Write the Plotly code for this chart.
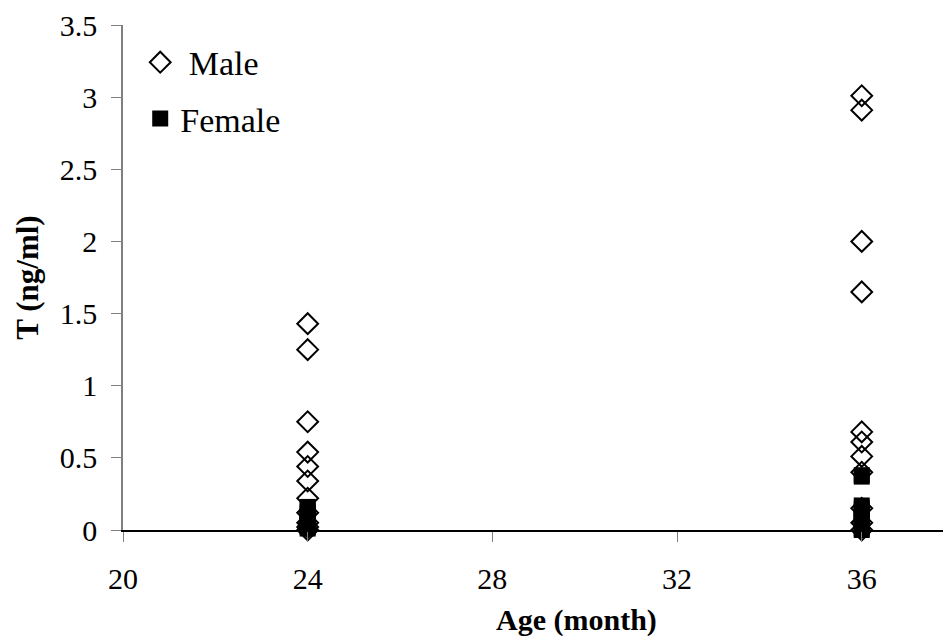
import plotly.graph_objects as go

# Data
male_age_24 = [1.43, 1.25, 0.75, 0.54, 0.44, 0.34, 0.22, 0.12, 0.05, 0.02, 0.0]
male_age_36 = [3.01, 2.91, 2.0, 1.65, 0.68, 0.61, 0.51, 0.40, 0.15, 0.05, 0.0]
female_age_24 = [0.16, 0.14, 0.12, 0.10, 0.08, 0.06, 0.05, 0.04, 0.03, 0.02, 0.01]
female_age_36 = [0.38, 0.37, 0.17, 0.15, 0.13, 0.11, 0.09, 0.07, 0.05, 0.03, 0.01, 0.0]

x_ticks = [20, 24, 28, 32, 36]
y_ticks = [0, 0.5, 1, 1.5, 2, 2.5, 3, 3.5]
y_tick_labels = ["0", "0.5", "1", "1.5", "2", "2.5", "3", "3.5"]

male_x = [24] * len(male_age_24) + [36] * len(male_age_36)
male_y = male_age_24 + male_age_36
female_x = [24] * len(female_age_24) + [36] * len(female_age_36)
female_y = female_age_24 + female_age_36

FONT = "Liberation Serif"

fig = go.Figure()
fig.add_trace(go.Scatter(
    x=male_x, y=male_y, mode="markers", name="&nbsp;Male", legendgroup="m",
    marker=dict(symbol="diamond-open", size=16, color="black", line=dict(width=2, color="black")),
    cliponaxis=False,
))
fig.add_trace(go.Scatter(
    x=female_x, y=female_y, mode="markers", name="Female", legendgroup="f",
    marker=dict(symbol="square", size=16, color="black", line=dict(width=0)),
    cliponaxis=False,
))

fig.update_layout(
    width=943, height=636,
    paper_bgcolor="white", plot_bgcolor="white",
    margin=dict(l=123, r=0, t=25, b=106),
    font=dict(family=FONT, color="black", size=30),
    showlegend=True,
    legend=dict(
        x=0.021, y=0.983, xanchor="left", yanchor="top",
        font=dict(family=FONT, size=34, color="black"),
        bgcolor="rgba(0,0,0,0)", tracegroupgap=9,
        itemsizing="trace",
    ),
    xaxis=dict(
        range=[20, 37.76], tickvals=x_ticks, ticktext=[str(v) for v in x_ticks],
        showgrid=False, zeroline=False, showline=True, linecolor="black", linewidth=1.5,
        ticks="outside", ticklen=10, tickcolor="#808080", tickwidth=1,
        ticklabelstandoff=11,
        tickfont=dict(family=FONT, size=30, color="black"),
    ),
    yaxis=dict(
        range=[0, 3.5], tickvals=y_ticks, ticktext=y_tick_labels,
        showgrid=False, zeroline=False, showline=True, linecolor="#808080", linewidth=1.5,
        ticks="outside", ticklen=10, tickcolor="#808080", tickwidth=1,
        ticklabelstandoff=8,
        tickfont=dict(family=FONT, size=30, color="black"),
        title=dict(text="<b>T (ng/ml)</b>", font=dict(family=FONT, size=31, color="black"), standoff=12),
    ),
    annotations=[dict(
        text="<b>Age (month)</b>", xref="paper", yref="paper",
        x=(576 - 123) / 820, y=(530 - 620) / 505, xanchor="center", yanchor="middle", showarrow=False,
        font=dict(family=FONT, size=30, color="black"),
    )],
)

fig.write_html("out.html", config={"displayModeBar": False},
               post_script="document.body.style.margin='0';")
